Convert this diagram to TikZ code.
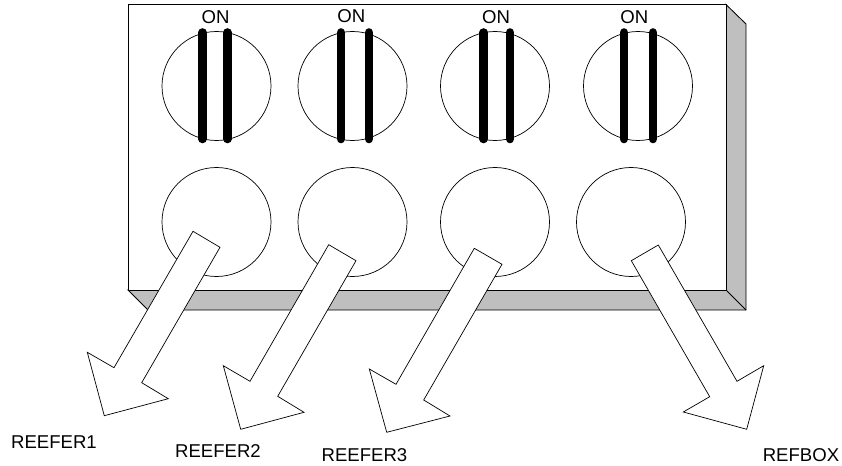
\documentclass[tikz,border=0pt]{standalone}
\usepackage{fontspec}
\setmainfont{Liberation Sans}
\definecolor{shadegray}{gray}{0.75}
\tikzset{
    labeltext/.style={inner sep=0pt,font=\fontsize{13.2pt}{15pt}\selectfont},
    bar/.style={line width=0.215cm,line cap=round},
    knob/.style={line width=0.5pt},
    outflow/.style={draw,fill=white,line width=0.5pt,line join=miter}
}

\begin{document}
\begin{tikzpicture}[x=0.025cm,y=-0.025cm]
    \useasboundingbox (0,0) rectangle (842,466);

    % box and its side faces
    \fill[shadegray,draw=black,line width=0.6pt] (128,290) -- (148,310) -- (746,310) -- (746,24) -- (726,4.5) -- (726,290) -- cycle;
    \draw[line width=0.6pt] (726,290) -- (746,310);
    \draw[fill=white,line width=0.7pt] (128,4.5) rectangle (726,290);

    % top knobs
    \foreach \x/\a/\b/\t in {216.5/202.5/227.5/1,352.5/341/369/2,495/483.7/510/3,638/624/653/4} {
        \draw[knob] (\x,86) circle (54.5);
        \draw[bar] (\a,32.5) -- (\a,139);
        \draw[bar] (\b,32.5) -- (\b,139);
    }

    % bottom knobs
    \foreach \x in {216.5,352.5,495,631} {
        \draw[knob] (\x,222) circle (54.5);
    }

    \path[outflow] (193,231.3) -- (220,247.3) -- (141.7,382.7) -- (168.3,398.7) -- (104.3,415.7) -- (87.3,352.3) -- (114,367.7) -- cycle;
    \path[outflow] (328.7,244.7) -- (356,260.7) -- (277.7,396.3) -- (304,412.3) -- (240.7,429.3) -- (223.3,365.7) -- (250,381.3) -- cycle;
    \path[outflow] (474.3,248.3) -- (502,264.3) -- (423.7,400) -- (450,416) -- (386.7,432.3) -- (369.3,369) -- (396,384.3) -- cycle;
    \path[outflow] (658.3,245) -- (631.3,260.7) -- (709.7,396.7) -- (683.3,412) -- (746.7,429.3) -- (763.7,365.7) -- (737,381.3) -- cycle;

    \node[labeltext] (on1) at (215.5,17.5) {ON};
    \node[labeltext] (on2) at (351.3,16.5) {ON};
    \node[labeltext] (on3) at (496,17.5) {ON};
    \node[labeltext] (on4) at (634.3,17.5) {ON};

    \node[labeltext] (reefer1) at (54,442) {REEFER1};
    \node[labeltext] (reefer2) at (218,451) {REEFER2};
    \node[labeltext] (reefer3) at (364.5,455) {REEFER3};
    \node[labeltext] (refbox) at (801,455) {REFBOX};
\end{tikzpicture}
\end{document}
